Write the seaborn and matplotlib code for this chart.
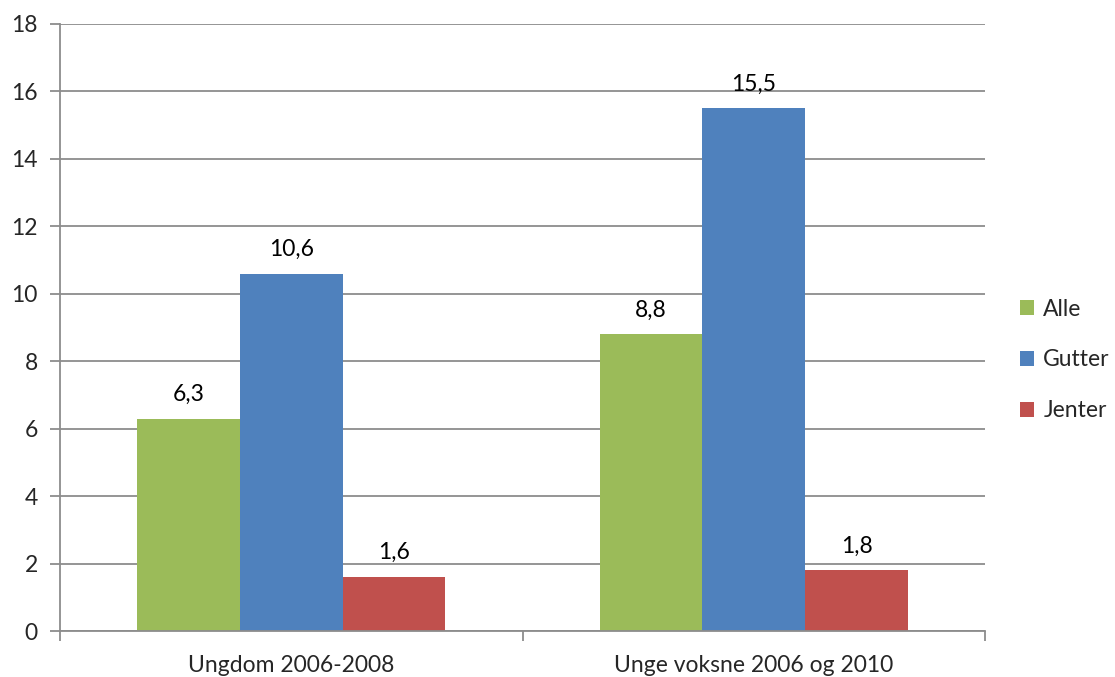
import matplotlib
matplotlib.use("Agg")
import matplotlib.pyplot as plt
import seaborn as sns
import pandas as pd
from matplotlib.patches import Patch

categories = ["Ungdom 2006-2008", "Unge voksne 2006 og 2010"]
series = ["Alle", "Gutter", "Jenter"]
alle = [6.3, 8.8]
gutter = [10.6, 15.5]
jenter = [1.6, 1.8]
yticks = [0, 2, 4, 6, 8, 10, 12, 14, 16, 18]

colors = {"Alle": "#9BBB59", "Gutter": "#4F81BD", "Jenter": "#C0504D"}

df = pd.DataFrame({
    "kategori": categories * 3,
    "serie": [s for s in series for _ in categories],
    "verdi": alle + gutter + jenter,
})

sns.set_style("white")
plt.rcParams["font.family"] = ["Lato", "DejaVu Sans"]
FS = 16.5

fig = plt.figure(figsize=(11.15, 6.77), dpi=100)
ax = fig.add_axes([60 / 1115, 46 / 677, 925 / 1115, 607 / 677])

sns.barplot(data=df, x="kategori", y="verdi", hue="serie", order=categories,
            hue_order=series, palette=colors, width=0.667, saturation=1,
            edgecolor="none", linewidth=0, ax=ax, legend=False)

for cont in ax.containers:
    labels = [f"{v:.1f}".replace(".", ",") for v in cont.datavalues]
    ax.bar_label(cont, labels=labels, padding=10, fontsize=FS, color="black")

ax.set_xlim(-0.5, 1.5)
ax.set_ylim(0, 18)
ax.set_yticks(yticks)
ax.set_yticklabels([str(t) for t in yticks], fontsize=FS)
ax.yaxis.grid(True, color="#8C8C8C", linewidth=1.3)
ax.set_axisbelow(True)

ax.set_xticks([0, 1])
ax.set_xticklabels(categories, fontsize=FS)
ax.tick_params(axis="x", length=0, pad=17)
ax.tick_params(axis="y", length=7, width=1.3, color="#8C8C8C", pad=9, left=True)
ax.set_xticks([-0.5, 0.5, 1.5], minor=True)
ax.tick_params(axis="x", which="minor", length=7, width=1.3, color="#8C8C8C", bottom=True)

for side in ["top", "right"]:
    ax.spines[side].set_visible(False)
for side in ["left", "bottom"]:
    ax.spines[side].set_color("#8C8C8C")
    ax.spines[side].set_linewidth(1.3)

ax.set_xlabel("")
ax.set_ylabel("")

handles = [Patch(facecolor=colors[s], edgecolor="none", label=s) for s in series]
fig.legend(handles=handles, loc="center left", bbox_to_anchor=(1020 / 1115, 1 - 360 / 677),
           frameon=False, fontsize=FS, handlelength=0.62, handleheight=0.62,
           handletextpad=0.4, labelspacing=1.3, borderaxespad=0, borderpad=0)

fig.savefig("out.png", dpi=100, facecolor="white")
